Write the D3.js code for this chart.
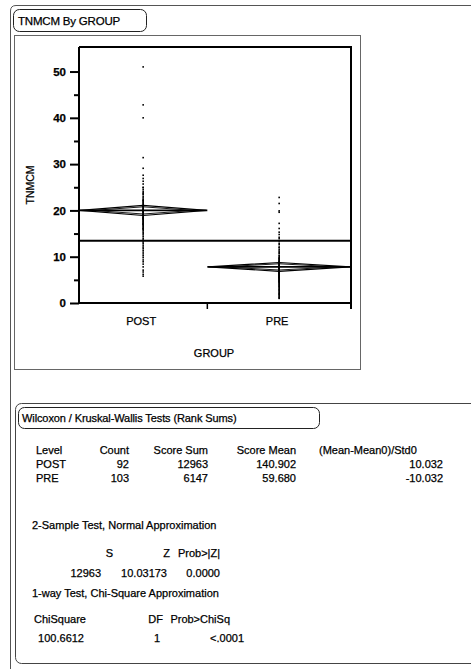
<!DOCTYPE html>
<html><head><meta charset="utf-8">
<script src="https://cdn.jsdelivr.net/npm/d3@7"></script>
<style>
html,body{margin:0;padding:0;background:#fff;}
svg{display:block;}
text{font-family:"Liberation Sans",Arial,sans-serif;fill:#000;stroke:#000;stroke-width:0.25px;}
</style></head>
<body>
<script>
// ---------- data ----------
const groups = ["POST", "PRE"];
const groupCounts = [92, 103];
const postValues = [51.0, 42.8, 40.0, 31.4, 29.1, 27.6, 26.9,
  26.3, 25.7, 25.0, 24.5, 24.1, 23.8, 23.4, 23.0, 22.7, 22.4,
  22.1, 21.9, 21.7, 21.5, 21.3, 21.1, 20.9, 20.8, 20.6, 20.5,
  20.3, 20.2, 20.0, 19.9, 19.8, 19.6, 19.5, 19.3, 19.2, 19.0,
  18.9, 18.8, 18.6, 18.5, 18.4, 18.2, 18.1, 18.0, 17.8, 17.7,
  17.5, 17.4, 17.2, 17.0, 16.9, 16.7, 16.5, 16.3, 16.1, 15.9,
  15.6, 15.3, 15.0, 14.7, 14.3, 13.9, 13.6, 13.2, 12.9, 12.5,
  12.1, 11.8, 11.4, 11.0, 10.6, 10.2, 9.8, 9.3, 8.9, 8.4,
  7.8, 7.1, 6.7, 6.2, 5.8, 24.9, 23.6, 22.2, 21.0, 20.1,
  19.7, 19.1, 18.3, 17.1, 16.0];
const preValues = [22.8, 21.5, 19.9, 19.6, 17.2, 16.1,
  15.3, 14.8, 14.2, 13.9, 13.4, 12.9, 12.6, 12.1, 11.9, 11.5,
  11.2, 10.9, 10.7, 10.3, 10.1, 9.8, 9.7, 9.4, 9.3, 9.1,
  9.0, 8.8, 8.7, 8.6, 8.4, 8.3, 8.2, 8.0, 8.0, 7.9,
  7.8, 7.7, 7.6, 7.5, 7.5, 7.4, 7.3, 7.2, 7.1, 7.0,
  6.9, 6.9, 6.8, 6.7, 6.6, 6.5, 6.4, 6.3, 6.3, 6.2,
  6.1, 6.0, 5.9, 5.8, 5.7, 5.6, 5.5, 5.4, 5.3, 5.2,
  5.1, 5.0, 4.9, 4.8, 4.6, 4.5, 4.4, 4.2, 4.1, 3.9,
  3.8, 3.6, 3.5, 3.3, 3.1, 2.9, 2.8, 2.6, 2.4, 2.2,
  2.0, 1.9, 1.7, 1.5, 1.3, 1.1, 1.0, 9.6, 8.9, 8.5,
  8.1, 7.7, 7.0, 6.6, 5.9, 5.5, 4.7];
const groupMeans = [20.0, 7.8];
const ciLower = [18.9, 6.85];
const ciUpper = [21.1, 8.75];
const grandMean = 13.45;
const yMajorTicks = [0, 10, 20, 30, 40, 50];
const yMinorTicks = [5, 15, 25, 35, 45];

// table data
const tableHeaders = ["Level", "Count", "Score Sum", "Score Mean", "(Mean-Mean0)/Std0"];
const tableLevels = ["POST", "PRE"];
const tableCounts = ["92", "103"];
const scoreSums = ["12963", "6147"];
const scoreMeans = ["140.902", "59.680"];
const stdScores = ["10.032", "-10.032"];
const twoSampleHeaders = ["S", "Z", "Prob>|Z|"];
const twoSampleValues = ["12963", "10.03173", "0.0000"];
const chiHeaders = ["ChiSquare", "DF", "Prob>ChiSq"];
const chiValues = ["100.6612", "1", "<.0001"];

// ---------- drawing ----------
const W = 471, H = 669;
const svg = d3.select("body").append("svg").attr("width", W).attr("height", H);

// outer report frame
svg.append("path")
  .attr("d", "M10.5,680 L10.5,11 Q10.5,5.5 16,5.5 L480,5.5")
  .attr("fill", "none").attr("stroke", "#555").attr("stroke-width", 1);

// title box
svg.append("rect").attr("x", 13.5).attr("y", 9.5).attr("width", 133).attr("height", 22)
  .attr("rx", 6).attr("fill", "none").attr("stroke", "#222").attr("stroke-width", 1);
svg.append("text").attr("x", 18).attr("y", 24.5).attr("font-size", 11.5)
  .attr("letter-spacing", -0.2).text("TNMCM By GROUP");

// chart frame
svg.append("rect").attr("x", 14.5).attr("y", 35.5).attr("width", 346).attr("height", 334)
  .attr("fill", "none").attr("stroke", "#666").attr("stroke-width", 1);

// scales
const total = d3.sum(groupCounts);
const x = d3.scaleLinear().domain([0, total]).range([79, 351]);
const y = d3.scaleLinear().domain([0, 55.3]).range([303, 47]);
const starts = groupCounts.map((c, i) => d3.sum(groupCounts.slice(0, i)));
const bands = groups.map((g, i) => ({
  name: g, x0: x(starts[i]), x1: x(starts[i] + groupCounts[i]),
  xc: x(starts[i] + groupCounts[i] / 2)
}));

const plot = svg.append("g");

// diamonds
bands.forEach((b, i) => {
  const m = y(groupMeans[i]), top = y(ciUpper[i]), bot = y(ciLower[i]);
  const hTop = (m - top) / Math.SQRT2, hBot = (bot - m) / Math.SQRT2;
  plot.append("path")
    .attr("d", `M${b.x0 + 1},${m} L${b.xc},${top} L${b.x1 - 1},${m} L${b.xc},${bot} Z`)
    .attr("fill", "none").attr("stroke", "#000").attr("stroke-width", 1.2);
  plot.append("path")
    .attr("d", `M${b.x0 + 14},${m} L${b.xc},${m - hTop} L${b.x1 - 14},${m} L${b.xc},${m + hBot} Z`)
    .attr("fill", "none").attr("stroke", "#000").attr("stroke-width", 0.9);
  plot.append("line").attr("x1", b.x0).attr("x2", b.x1).attr("y1", m).attr("y2", m)
    .attr("stroke", "#000").attr("stroke-width", 1.8);
});

// grand mean line
plot.append("line").attr("x1", x(0)).attr("x2", x(total))
  .attr("y1", y(grandMean)).attr("y2", y(grandMean))
  .attr("stroke", "#000").attr("stroke-width", 2);

// points
const allVals = [postValues, preValues];
bands.forEach((b, i) => {
  plot.selectAll(null).data(allVals[i]).enter().append("rect")
    .attr("x", b.xc - 0.8).attr("y", d => y(d) - 0.8)
    .attr("width", 1.6).attr("height", 1.6).attr("fill", "#000");
});

// axes frame
const axisG = svg.append("g");
axisG.append("line").attr("x1", x(0)).attr("x2", x(0)).attr("y1", y(55.3)).attr("y2", 304)
  .attr("stroke", "#000").attr("stroke-width", 2);
axisG.append("line").attr("x1", x(0)).attr("x2", x(total)).attr("y1", y(55.3)).attr("y2", y(55.3))
  .attr("stroke", "#000").attr("stroke-width", 2);
axisG.append("line").attr("x1", x(total)).attr("x2", x(total)).attr("y1", y(55.3) - 1).attr("y2", 309)
  .attr("stroke", "#000").attr("stroke-width", 2);
axisG.append("line").attr("x1", x(0)).attr("x2", x(total)).attr("y1", y(0)).attr("y2", y(0))
  .attr("stroke", "#000").attr("stroke-width", 2);

// y axis ticks
const yAxis = d3.axisLeft(y).tickValues(yMajorTicks).tickSize(9).tickPadding(4);
const ya = svg.append("g").attr("transform", `translate(${x(0)},0)`).call(yAxis);
ya.select(".domain").remove();
ya.selectAll(".tick line").attr("stroke", "#000").attr("stroke-width", 2);
ya.selectAll(".tick text").attr("font-size", 11.5).attr("font-family", "Liberation Sans, Arial, sans-serif").attr("font-weight", "bold").attr("fill", "#000");
const yMinor = d3.axisLeft(y).tickValues(yMinorTicks).tickSize(5).tickFormat("");
const ym = svg.append("g").attr("transform", `translate(${x(0)},0)`).call(yMinor);
ym.select(".domain").remove();
ym.selectAll(".tick line").attr("stroke", "#000").attr("stroke-width", 2);

// x axis: category boundary ticks
svg.selectAll(null).data(bands).enter().append("line")
  .attr("x1", d => d.x1).attr("x2", d => d.x1).attr("y1", y(0)).attr("y2", y(0) + 6)
  .attr("stroke", "#000").attr("stroke-width", 1.5);
svg.selectAll(null).data(bands).enter().append("text")
  .attr("x", d => d.xc - 2).attr("y", 325).attr("text-anchor", "middle")
  .attr("font-size", 11).text(d => d.name);

// axis titles
svg.append("text").attr("x", x(total / 2) - 1).attr("y", 357).attr("text-anchor", "middle")
  .attr("font-size", 11).text("GROUP");
svg.append("text").attr("transform", `translate(34,${y(25.5)}) rotate(-90)`)
  .attr("text-anchor", "middle").attr("font-size", 10.5).text("TNMCM");

// ---------- Wilcoxon report ----------
svg.append("rect").attr("x", 15.5).attr("y", 403.5).attr("width", 470).attr("height", 260)
  .attr("rx", 6).attr("fill", "none").attr("stroke", "#444").attr("stroke-width", 1);
svg.append("rect").attr("x", 18.5).attr("y", 407.5).attr("width", 301).attr("height", 21)
  .attr("rx", 6).attr("fill", "none").attr("stroke", "#222").attr("stroke-width", 1);
svg.append("text").attr("x", 22).attr("y", 422).attr("font-size", 11)
  .attr("letter-spacing", -0.1).text("Wilcoxon / Kruskal-Wallis Tests (Rank Sums)");

const colSpecs = [
  {x: 36, anchor: "start"},
  {x: 129, anchor: "end"},
  {x: 208, anchor: "end"},
  {x: 296, anchor: "end"},
  {x: 443, anchor: "end"}
];
tableHeaders.forEach((h, i) => {
  const isLast = i === tableHeaders.length - 1;
  svg.append("text").attr("x", isLast ? 319 : colSpecs[i].x).attr("y", 454)
    .attr("text-anchor", isLast ? "start" : colSpecs[i].anchor)
    .attr("font-size", 11).text(h);
});
const rows = tableLevels.map((l, i) => [l, tableCounts[i], scoreSums[i], scoreMeans[i], stdScores[i]]);
rows.forEach((r, ri) => {
  r.forEach((v, ci) => {
    svg.append("text").attr("x", colSpecs[ci].x).attr("y", 468 + ri * 13.5)
      .attr("text-anchor", colSpecs[ci].anchor).attr("font-size", 11).text(v);
  });
});

svg.append("text").attr("x", 32).attr("y", 529).attr("font-size", 11)
  .text("2-Sample Test, Normal Approximation");
const tsHdrX = [113, 170, 220];
const tsValX = [101, 167, 220];
twoSampleHeaders.forEach((h, i) => svg.append("text").attr("x", tsHdrX[i]).attr("y", 557)
  .attr("text-anchor", "end").attr("font-size", 11).text(h));
twoSampleValues.forEach((v, i) => svg.append("text").attr("x", tsValX[i]).attr("y", 577)
  .attr("text-anchor", "end").attr("font-size", 11).text(v));

svg.append("text").attr("x", 32).attr("y", 597).attr("font-size", 11)
  .text("1-way Test, Chi-Square Approximation");
const chHdrX = [34, 163, 230];
const chHdrA = ["start", "end", "end"];
const chValX = [84, 160, 244];
chiHeaders.forEach((h, i) => svg.append("text").attr("x", chHdrX[i]).attr("y", 623)
  .attr("text-anchor", chHdrA[i]).attr("font-size", 11).text(h));
chiValues.forEach((v, i) => svg.append("text").attr("x", chValX[i]).attr("y", 642)
  .attr("text-anchor", "end").attr("font-size", 11).text(v));
</script>
</body></html>
